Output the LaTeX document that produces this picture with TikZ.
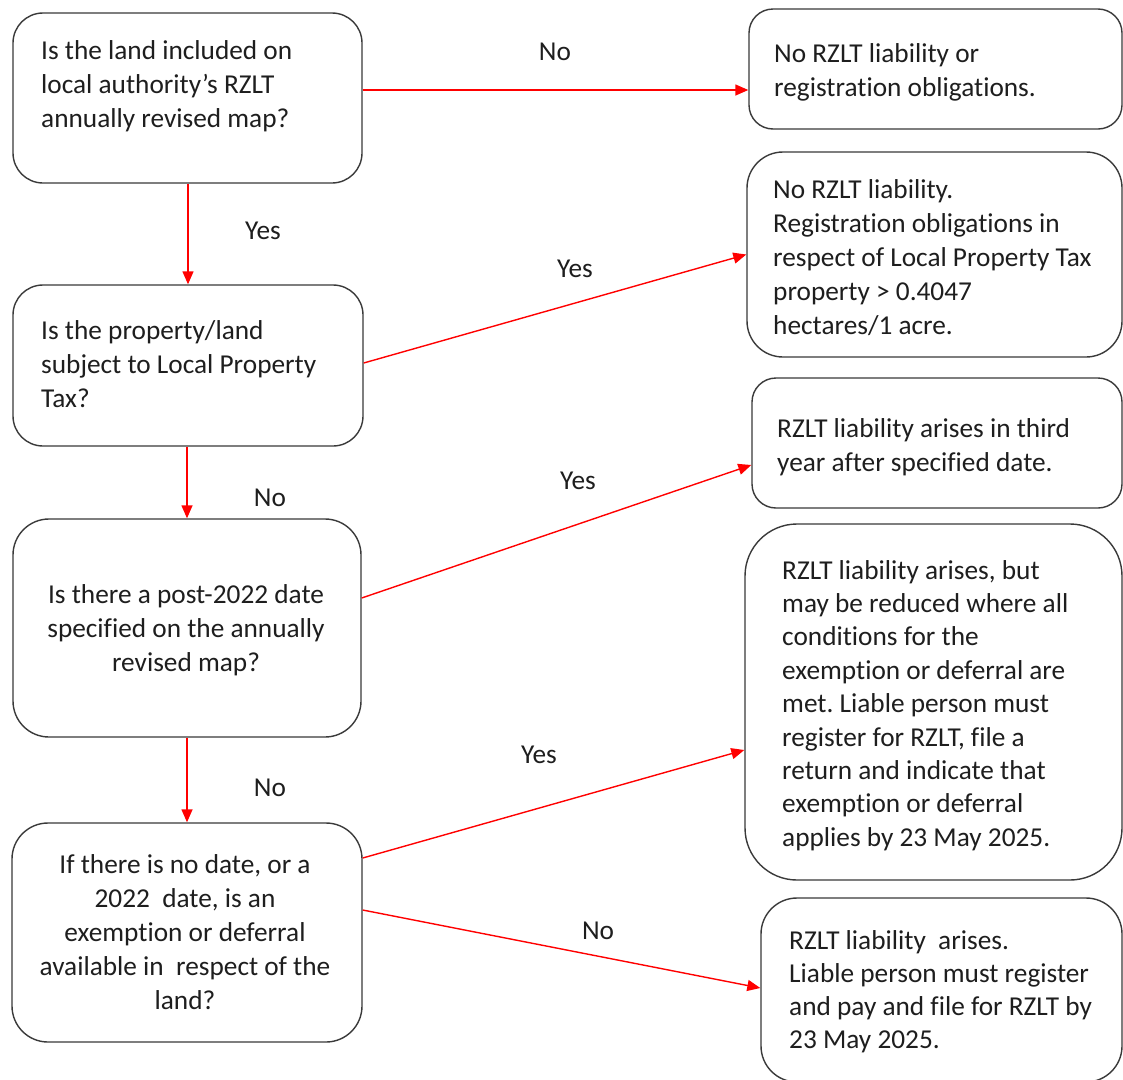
\documentclass[tikz,border=0pt]{standalone}
\usepackage{fontspec}
\setmainfont[RawFeature={-liga;-clig;-dlig;-calt;-rlig}]{Carlito}
\frenchspacing
\usetikzlibrary{arrows.meta}
\definecolor{boxline}{HTML}{3A3A3A}
\definecolor{txtcol}{HTML}{1E1E1E}
\definecolor{arr}{HTML}{FF0000}
\newcommand\flowfont[1]{\fontsize{27.3}{#1}\selectfont}
\newcommand\tightspace{\spaceskip=1.0\fontdimen2\font\relax\xspaceskip=\spaceskip}
\begin{document}
\begin{tikzpicture}[x=1pt,y=-1pt,
  box/.style={draw=boxline,line width=1.4pt,fill=white,inner sep=0pt,rectangle},
  txt/.style={inner sep=0pt,text=txtcol,font=\flowfont{34},text width=#1,execute at begin node=\tightspace},
  txt/.default=345pt,
  lab/.style={inner sep=0pt,text=txtcol,font=\flowfont{34},anchor=base},
  conn/.style={draw=arr,line width=1.4pt,-{Triangle[length=13pt,width=11pt]}}]
\useasboundingbox[fill=white] (0,0) rectangle (1123,1079);

% question boxes
\node[box,minimum width=349pt,minimum height=170pt,rounded corners=30pt] (q1) at (187.5,98) {};
\node[box,minimum width=350pt,minimum height=161pt,rounded corners=30pt] (q2) at (188,365.5) {};
\node[box,minimum width=348pt,minimum height=218pt,rounded corners=36pt] (q3) at (187,628) {};
\node[box,minimum width=350pt,minimum height=219pt,rounded corners=36pt] (q4) at (187,932.5) {};
% answer boxes
\node[box,minimum width=373pt,minimum height=120pt,rounded corners=24pt] (r1) at (935.5,69) {};
\node[box,minimum width=375pt,minimum height=205pt,rounded corners=36pt] (r2) at (934.5,254.5) {};
\node[box,minimum width=370pt,minimum height=130pt,rounded corners=24pt] (r3) at (937,443) {};
\node[box,minimum width=377pt,minimum height=356pt,rounded corners=52pt] (r4) at (933.5,702) {};
\node[box,minimum width=361pt,minimum height=184pt,rounded corners=36pt] (r5) at (941.5,990) {};

% texts
\node[txt,align=left,anchor=base west] (t1) at (41,59) {Is the land included on\\local authority’s RZLT\\annually revised map?};
\node[txt,align=left,anchor=base west] (t2) at (41,339) {Is the property/land\\subject to Local Property\\Tax?};
\node[txt,align=center,anchor=base] (t3) at (186,603) {Is there a post-2022 date\\specified on the annually\\revised map?};
\node[txt,align=center,anchor=base] (t4) at (185,873) {If there is no date, or a\\2022\ \ date, is an\\exemption or deferral\\available in\ \ respect of the\\land?};
\node[txt,align=left,anchor=base west] (s1) at (774,62) {No RZLT liability or\\registration obligations.};
\node[txt,align=left,anchor=base west] (s2) at (773,198) {No RZLT liability.\\Registration obligations in\\respect of Local Property Tax\\property > 0.4047\\hectares/1 acre.};
\node[txt,align=left,anchor=base west] (s3) at (777,437) {RZLT liability arises in third\\year after specified date.};
\node[txt,align=left,anchor=base west,font=\flowfont{33.4}] (s4) at (782,579) {RZLT liability arises, but\\may be reduced where all\\conditions for the\\exemption or deferral are\\met. Liable person must\\register for RZLT, file a\\return and indicate that\\exemption or deferral\\applies by 23 May 2025.};
\node[txt,align=left,anchor=base west,font=\flowfont{33}] (s5) at (789,949) {RZLT liability\ \ arises.\\Liable person must register\\and pay and file for RZLT by\\23 May 2025.};

% connectors
\draw[conn] ([yshift=8pt]q1.east) -- ([yshift=-21pt]r1.west);
\draw[conn] (q1.south -| q2.north) -- (q2.north);
\draw[conn] ([yshift=2.5pt]q2.east) -- (r2.west);
\draw[conn] (q2.south -| q3.north) -- (q3.north);
\draw[conn] ([yshift=30pt]q3.east) -- ([yshift=-22pt]r3.west);
\draw[conn] (q3.south -| q4.north) -- (q4.north);
\draw[conn] ([yshift=74.5pt]q4.east) -- ([yshift=-48pt]r4.west);
\draw[conn] ([yshift=22.5pt]q4.east) -- ([yshift=2pt]r5.west);

% labels
\node[lab] (l1) at (555,60) {No};
\node[lab] (l2) at (263,239) {Yes};
\node[lab] (l3) at (575,277) {Yes};
\node[lab] (l4) at (270,506) {No};
\node[lab] (l5) at (578,489) {Yes};
\node[lab] (l6) at (270,796) {No};
\node[lab] (l7) at (539,763) {Yes};
\node[lab] (l8) at (598,939) {No};
\end{tikzpicture}
\end{document}
